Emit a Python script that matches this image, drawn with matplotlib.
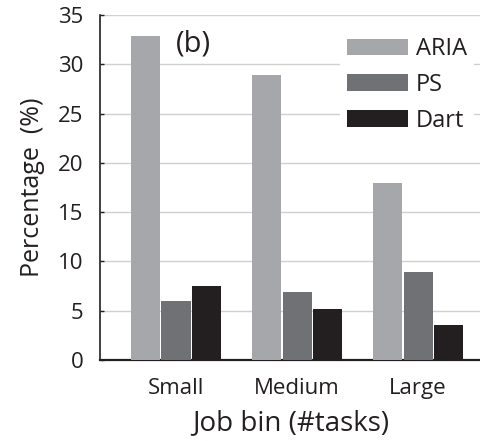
import matplotlib
matplotlib.use("Agg")
import matplotlib.pyplot as plt
import numpy as np

categories = ["Small", "Medium", "Large"]
series_names = ["ARIA", "PS", "Dart"]
aria = [32.9, 28.9, 18.0]
ps = [6.0, 6.9, 8.9]
dart = [7.5, 5.2, 3.6]
colors = ["#a6a7aa", "#707174", "#231f20"]
yticks = [0, 5, 10, 15, 20, 25, 30, 35]

plt.rcParams['font.family'] = ['Open Sans', 'DejaVu Sans']

fig = plt.figure(figsize=(4.81, 4.41), dpi=100)
ax = fig.add_axes([100/481, 81/441, 381/481, 345/441])

x = np.arange(len(categories))
step = 0.25
width = 0.24
for i, (vals, name, c) in enumerate(zip([aria, ps, dart], series_names, colors)):
    ax.bar(x + (i - 1) * step, vals, width, color=c, label=name, zorder=3)

ax.set_xlim(-0.628, 2.52)
ax.set_ylim(0, 35)
ax.set_yticks(yticks)
ax.set_xticks(x)
ax.set_xticklabels(categories)
ax.tick_params(axis='y', direction='in', length=3, width=1, labelsize=16, pad=12, colors='#231f20')
ax.tick_params(axis='x', length=0, labelsize=16, pad=13, colors='#231f20')
ax.yaxis.grid(True, color='#d0d0d0', linewidth=1, zorder=0)
ax.set_axisbelow(True)
for s in ['top', 'right']:
    ax.spines[s].set_visible(False)
ax.spines['left'].set_color('#231f20')
ax.spines['bottom'].set_color('#231f20')
ax.spines['bottom'].set_linewidth(1.6)
ax.spines['left'].set_linewidth(1.2)

ax.set_ylabel("Percentage  (%)", fontsize=18, color='#231f20', labelpad=9)
ax.set_xlabel("Job bin (#tasks)", fontsize=20, color='#231f20', labelpad=7)

ax.text(0.0, 32.1, "(b)", fontsize=21, color='#231f20', ha='left', va='center', zorder=4)

leg = ax.legend(loc='upper left', bbox_to_anchor=(340/481, 1 - 30/441), bbox_transform=fig.transFigure,
                frameon=True, fontsize=17, handlelength=2.6, handleheight=0.7,
                handletextpad=0.3, labelspacing=0.5, borderaxespad=0, borderpad=0.3)
leg.get_frame().set_facecolor('white')
leg.get_frame().set_edgecolor('none')
leg.get_frame().set_alpha(1)
for t in leg.get_texts():
    t.set_color('#231f20')

fig.savefig("out.png", dpi=100)
